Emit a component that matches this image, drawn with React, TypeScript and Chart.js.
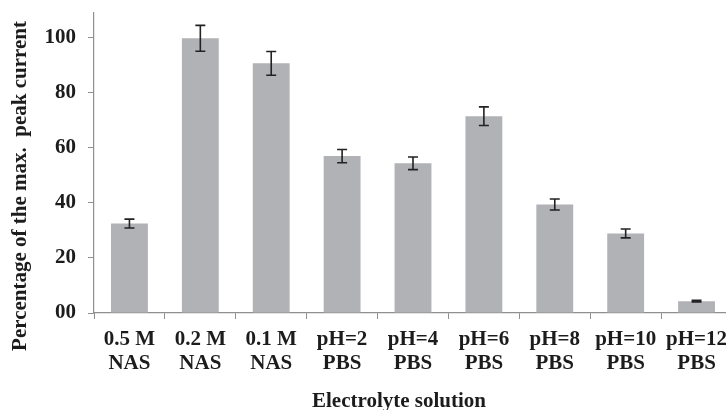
import React, { useEffect, useRef } from "react";
import { Chart, registerables } from "chart.js";

Chart.register(...registerables);

const categories: string[][] = [
  ["0.5 M", "NAS"],
  ["0.2 M", "NAS"],
  ["0.1 M", "NAS"],
  ["pH=2", "PBS"],
  ["pH=4", "PBS"],
  ["pH=6", "PBS"],
  ["pH=8", "PBS"],
  ["pH=10", "PBS"],
  ["pH=12", "PBS"],
];
const values: number[] = [32.5, 99.8, 90.7, 57.0, 54.4, 71.5, 39.4, 28.9, 4.3];
const errors: number[] = [1.6, 4.7, 4.3, 2.4, 2.3, 3.4, 2.0, 1.6, 0.3];
const yTickValues: number[] = [0, 20, 40, 60, 80, 100];
const yTickLabels: string[] = ["00", "20", "40", "60", "80", "100"];
const xTitle = "Electrolyte solution";
const yTitle = "Percentage of the max.  peak current";

const FONT = "'Liberation Serif', 'Times New Roman', serif";
const AXIS_COLOR = "#8f8f8f";
const TEXT_COLOR = "#1c1c1c";

const errorBarPlugin = {
  id: "errorBars",
  afterDatasetsDraw(chart: any) {
    const { ctx } = chart;
    const meta = chart.getDatasetMeta(0);
    const yScale = chart.scales.y;
    ctx.save();
    ctx.strokeStyle = "#222222";
    ctx.lineWidth = 1.6;
    meta.data.forEach((bar: any, i: number) => {
      const v = values[i];
      const e = errors[i];
      const x = bar.x;
      const yTop = yScale.getPixelForValue(v + e);
      const yBot = yScale.getPixelForValue(v - e);
      const cap = 5;
      ctx.beginPath();
      ctx.moveTo(x, yTop);
      ctx.lineTo(x, yBot);
      ctx.moveTo(x - cap, yTop);
      ctx.lineTo(x + cap, yTop);
      ctx.moveTo(x - cap, yBot);
      ctx.lineTo(x + cap, yBot);
      ctx.stroke();
    });
    ctx.restore();
  },
};

const titlesPlugin = {
  id: "customTitles",
  afterDraw(chart: any) {
    const { ctx } = chart;
    ctx.save();
    ctx.fillStyle = TEXT_COLOR;
    ctx.font = `bold 21px ${FONT}`;
    ctx.textAlign = "center";
    ctx.textBaseline = "alphabetic";
    ctx.fillText(xTitle, 399, 407);
    ctx.translate(26, 186);
    ctx.rotate(-Math.PI / 2);
    ctx.fillText(yTitle, 0, 0);
    ctx.restore();
  },
};

export default function App() {
  const canvasRef = useRef<HTMLCanvasElement | null>(null);

  useEffect(() => {
    if (!canvasRef.current) return;
    const chart = new Chart(canvasRef.current, {
      type: "bar",
      data: {
        labels: categories,
        datasets: [
          {
            data: values,
            backgroundColor: "#b1b2b5",
            borderWidth: 0,
            categoryPercentage: 1,
            barPercentage: 0.52,
          },
        ],
      },
      options: {
        responsive: false,
        animation: false,
        devicePixelRatio: 1,
        layout: { padding: { top: 13, right: 0, left: 0, bottom: 0 } },
        plugins: {
          legend: { display: false },
          tooltip: { enabled: false },
          title: { display: false },
        },
        scales: {
          x: {
            grid: {
              display: true,
              drawOnChartArea: false,
              drawTicks: true,
              tickLength: 6,
              color: AXIS_COLOR,
              offset: true,
            },
            border: { display: true, color: AXIS_COLOR, width: 1.2 },
            ticks: {
              color: TEXT_COLOR,
              font: { family: FONT, size: 21, weight: "bold", lineHeight: 1.167 },
              padding: 8,
              maxRotation: 0,
              autoSkip: false,
            },
            afterFit(scale: any) {
              scale.height = 97;
              scale.paddingLeft = 0;
              scale.paddingRight = 0;
            },
          },
          y: {
            min: 0,
            max: 109,
            afterBuildTicks(scale: any) {
              scale.ticks = yTickValues.map((v) => ({ value: v }));
            },
            grid: {
              display: true,
              drawOnChartArea: false,
              drawTicks: true,
              tickLength: 6,
              color: AXIS_COLOR,
            },
            border: { display: true, color: AXIS_COLOR, width: 1.2 },
            ticks: {
              color: TEXT_COLOR,
              font: { family: FONT, size: 21, weight: "bold" },
              padding: 12,
              callback: (_v: any, i: number) => yTickLabels[i],
            },
            afterFit(scale: any) {
              scale.width = 94;
              scale.paddingTop = 0;
              scale.paddingBottom = 0;
            },
          },
        },
      },
      plugins: [errorBarPlugin, titlesPlugin],
    });
    return () => chart.destroy();
  }, []);

  return (
    <div
      style={{
        position: "absolute",
        left: 0,
        top: 0,
        width: 726,
        height: 410,
        overflow: "hidden",
        background: "#ffffff",
      }}
    >
      <canvas ref={canvasRef} width={732} height={410} style={{ display: "block" }} />
    </div>
  );
}
